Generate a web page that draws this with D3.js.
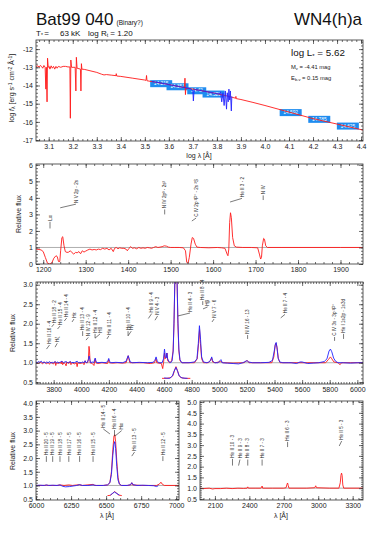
<!DOCTYPE html>
<html><head><meta charset="utf-8">
<script src="https://cdn.jsdelivr.net/npm/d3@7"></script>
<style>
body{margin:0;background:#fff}
svg text{font-family:"Liberation Sans",Arial,sans-serif}
.axis path{stroke:none}
.axis line{stroke:#333;stroke-width:0.7}
.axis text{font-size:7px;fill:#222}
</style></head><body>
<svg id="chart" width="382" height="541"></svg>
<script>
// ---- data ----
const sedModel = [[3.047,-12.95],[3.055,-12.92],[3.06,-13.0],[3.065,-12.9],[3.07,-12.95],[3.075,-13.05],[3.08,-12.9],[3.085,-13.0],[3.088,-14.2],[3.09,-13.0],[3.093,-14.9],[3.095,-12.5],[3.098,-13.0],[3.102,-12.95],[3.105,-13.1],[3.11,-12.92],[3.115,-13.05],[3.12,-12.95],[3.125,-13.1],[3.13,-12.95],[3.135,-13.05],[3.14,-12.95],[3.15,-13.0],[3.16,-12.95],[3.17,-12.95],[3.18,-12.98],[3.188,-12.98],[3.19,-15.8],[3.192,-12.6],[3.195,-13.0],[3.21,-13.0],[3.213,-14.3],[3.215,-12.45],[3.218,-13.05],[3.232,-13.1],[3.234,-14.3],[3.236,-12.8],[3.238,-13.1],[3.25,-13.12],[3.3,-13.28],[3.32,-13.38],[3.33,-13.42],[3.34,-13.4],[3.36,-13.43],[3.38,-13.46],[3.381,-13.35],[3.383,-13.48],[3.4,-13.5],[3.45,-13.6],[3.5,-13.7],[3.505,-13.72],[3.507,-13.45],[3.509,-13.74],[3.55,-13.83],[3.6,-13.95],[3.65,-14.08],[3.665,-14.12],[3.667,-13.6],[3.669,-14.5],[3.671,-14.14],[3.7,-14.2],[3.75,-14.32],[3.8,-14.45],[3.85,-14.6],[3.878,-14.7],[3.879,-14.6],[3.88,-14.72],[3.9,-14.77],[3.95,-14.93],[4.0,-15.1],[4.1,-15.46],[4.2,-15.82],[4.3,-16.12],[4.408,-16.45]];
const sedObs = [[3.53,-13.78],[3.54,-13.8],[3.55,-13.83],[3.56,-13.84],[3.57,-13.88],[3.58,-13.9],[3.59,-13.92],[3.6,-13.96],[3.61,-13.98],[3.62,-14.0],[3.63,-14.03],[3.64,-14.05],[3.65,-14.08],[3.66,-14.1],[3.67,-14.12],[3.68,-14.15],[3.69,-14.18],[3.7,-14.3],[3.702,-14.85],[3.705,-14.25],[3.71,-14.22],[3.72,-14.25],[3.73,-14.27],[3.74,-14.3],[3.75,-14.32],[3.76,-14.35],[3.77,-14.37],[3.78,-14.4],[3.79,-14.42],[3.8,-14.45],[3.81,-14.47],[3.815,-14.35],[3.82,-14.9],[3.825,-14.4],[3.83,-15.1],[3.835,-14.3],[3.84,-15.3],[3.843,-14.4],[3.847,-14.9],[3.85,-14.2],[3.853,-14.8],[3.856,-14.3],[3.86,-15.4],[3.862,-14.6]];
const photLam = [3.568, 3.636, 3.716, 3.786, 4.107, 4.226, 4.345];
const photFlux = [-13.90, -14.07, -14.29, -14.47, -15.49, -15.86, -16.23];
const photMag = ['14.215', '14.353', '14.42', '14.528', '14.592', '14.785', '14.625'];

const uvModel = [[1183,0.9],[1190,0.88],[1195,0.85],[1200,0.75],[1205,0.4],[1210,0.05],[1215,0.0],[1220,0.05],[1225,0.35],[1230,0.5],[1233,0.45],[1236,0.15],[1239,0.15],[1241,0.8],[1244,1.6],[1246,1.65],[1249,1.1],[1252,0.75],[1256,0.7],[1260,0.72],[1264,0.8],[1268,0.68],[1272,0.6],[1276,0.7],[1280,0.68],[1284,0.75],[1288,0.62],[1292,0.8],[1296,0.72],[1300,0.78],[1305,0.85],[1310,0.9],[1315,0.85],[1320,0.88],[1325,0.85],[1330,0.9],[1335,0.87],[1340,0.95],[1345,0.9],[1350,0.95],[1355,0.85],[1360,0.95],[1365,0.75],[1368,0.95],[1372,1.0],[1376,0.92],[1380,0.98],[1385,0.95],[1390,0.95],[1395,0.9],[1398,0.8],[1402,0.95],[1406,1.05],[1410,0.95],[1415,0.98],[1420,0.92],[1425,1.0],[1430,0.95],[1435,0.98],[1440,0.95],[1445,1.0],[1450,0.98],[1455,0.95],[1460,1.0],[1465,1.05],[1470,1.0],[1475,1.02],[1480,1.05],[1485,1.1],[1490,1.08],[1495,1.02],[1500,1.0],[1510,1.0],[1520,1.0],[1530,0.98],[1535,0.8],[1538,0.1],[1541,0.05],[1544,0.4],[1548,1.2],[1551,1.6],[1554,1.55],[1558,1.2],[1562,1.02],[1570,1.0],[1590,0.98],[1610,1.0],[1620,0.98],[1628,0.95],[1633,0.6],[1635,0.5],[1637,0.9],[1639,2.5],[1641,3.1],[1643,2.8],[1646,1.6],[1650,1.1],[1655,1.02],[1670,1.0],[1690,1.0],[1705,0.98],[1709,0.6],[1712,0.3],[1714,0.4],[1716,1.1],[1719,1.55],[1721,1.5],[1724,1.1],[1728,1.0],[1760,1.0],[1800,1.0],[1900,1.0],[1953,1.0]];

const optModel = [[3672,1.0],[3690,0.98],[3700,1.02],[3710,1.0],[3720,0.97],[3730,1.02],[3740,1.0],[3750,0.97],[3760,1.01],[3770,0.96],[3780,1.02],[3790,0.98],[3800,0.97],[3810,1.03],[3815,0.93],[3820,1.0],[3835,0.98],[3845,1.02],[3855,0.97],[3860,1.04],[3865,0.95],[3875,1.0],[3885,0.97],[3890,0.92],[3895,1.02],[3910,0.98],[3920,1.03],[3925,0.95],[3935,1.0],[3950,0.97],[3965,1.0],[3970,0.9],[3975,1.0],[3990,0.98],[4010,1.0],[4020,0.95],[4028,1.05],[4035,1.0],[4045,1.0],[4052,1.1],[4056,1.42],[4060,1.3],[4064,1.0],[4080,0.98],[4092,0.93],[4100,1.1],[4106,1.0],[4120,0.98],[4150,1.0],[4190,0.98],[4198,1.08],[4203,1.0],[4230,0.99],[4260,1.0],[4300,0.99],[4325,1.0],[4335,1.12],[4340,1.18],[4345,1.1],[4352,1.0],[4400,1.0],[4450,1.0],[4500,0.98],[4530,1.0],[4538,1.08],[4542,1.1],[4547,1.0],[4580,0.98],[4590,0.85],[4596,1.0],[4603,1.25],[4607,1.1],[4617,1.15],[4621,1.25],[4626,1.05],[4640,1.0],[4655,1.05],[4665,1.3],[4672,2.0],[4678,3.1],[4686,3.3],[4694,3.1],[4700,2.0],[4707,1.3],[4715,1.05],[4730,1.0],[4780,1.0],[4820,1.0],[4840,1.1],[4850,1.5],[4857,1.85],[4863,1.5],[4872,1.1],[4885,1.0],[4920,1.0],[4935,1.05],[4944,1.12],[4952,1.02],[4970,1.0],[5010,1.03],[5030,1.0],[5100,0.99],[5180,1.0],[5195,1.05],[5205,1.05],[5215,1.0],[5300,1.0],[5380,1.0],[5395,1.15],[5405,1.45],[5411,1.5],[5418,1.4],[5428,1.1],[5440,1.0],[5500,1.0],[5600,1.0],[5700,1.0],[5770,1.0],[5790,1.08],[5805,1.15],[5815,1.1],[5830,1.02],[5860,1.0],[5875,0.95],[5885,1.0],[5950,1.0],[6041,1.0]];
const optObs = [[3672,1.02],[3680,1.0],[3690,1.03],[3700,1.01],[3710,1.04],[3720,1.0],[3730,1.02],[3740,0.99],[3750,1.02],[3760,1.0],[3770,1.03],[3780,0.99],[3790,1.01],[3800,1.0],[3810,1.03],[3820,1.0],[3830,1.02],[3840,0.99],[3850,1.02],[3860,1.04],[3870,1.0],[3880,1.02],[3890,1.03],[3900,1.0],[3910,1.01],[3920,1.03],[3930,1.0],[3940,1.01],[3950,1.0],[3960,1.02],[3970,1.04],[3980,1.0],[3990,1.01],[4000,1.0],[4010,1.02],[4020,1.0],[4028,1.05],[4035,1.0],[4045,1.02],[4052,1.08],[4057,1.17],[4062,1.08],[4068,1.0],[4080,1.02],[4090,1.0],[4097,1.08],[4101,1.12],[4106,1.05],[4112,1.0],[4150,1.01],[4180,1.0],[4193,1.05],[4199,1.11],[4205,1.04],[4212,1.0],[4250,1.01],[4300,1.0],[4325,1.04],[4333,1.12],[4340,1.18],[4347,1.1],[4355,1.02],[4370,1.0],[4420,1.01],[4480,1.0],[4520,1.01],[4533,1.06],[4542,1.15],[4550,1.05],[4560,1.0],[4585,1.0],[4596,1.1],[4603,1.35],[4609,1.15],[4615,1.12],[4620,1.25],[4626,1.1],[4635,1.03],[4648,1.0],[4658,1.05],[4666,1.3],[4672,2.1],[4678,3.1],[4686,3.3],[4694,3.1],[4700,2.1],[4707,1.35],[4715,1.08],[4728,1.0],[4780,1.0],[4820,1.02],[4838,1.1],[4848,1.5],[4856,1.95],[4864,1.6],[4872,1.15],[4885,1.02],[4910,1.0],[4930,1.03],[4940,1.1],[4945,1.15],[4952,1.05],[4965,1.0],[4990,1.0],[5005,1.05],[5012,1.08],[5020,1.0],[5060,0.99],[5100,0.98],[5140,0.97],[5170,1.0],[5192,1.04],[5202,1.05],[5212,1.02],[5240,1.0],[5300,1.0],[5360,1.01],[5385,1.06],[5398,1.3],[5406,1.48],[5412,1.52],[5418,1.38],[5426,1.12],[5438,1.02],[5460,1.0],[5520,1.0],[5560,0.98],[5585,1.02],[5600,1.02],[5640,0.98],[5680,0.99],[5720,1.0],[5760,1.03],[5780,1.1],[5795,1.3],[5805,1.35],[5815,1.28],[5828,1.12],[5842,1.04],[5860,1.0],[5900,1.0],[5950,0.99],[6000,1.0],[6041,1.0]];
const optInsetModel = [[4585,0.6],[4620,0.6],[4650,0.62],[4665,0.68],[4675,0.8],[4686,0.9],[4697,0.8],[4707,0.68],[4720,0.62],[4750,0.6],[4790,0.6]];
const optInsetObs = [[4600,0.61],[4640,0.6],[4660,0.66],[4672,0.78],[4686,0.88],[4698,0.78],[4710,0.66],[4730,0.61],[4770,0.6]];

const redModel = [[6000,1.0],[6050,1.0],[6074,1.01],[6100,1.0],[6150,1.0],[6171,1.02],[6200,1.0],[6234,1.02],[6260,1.0],[6311,1.03],[6330,1.0],[6407,1.04],[6420,1.0],[6480,1.0],[6510,1.02],[6527,1.1],[6538,1.5],[6548,2.3],[6556,2.8],[6562,2.85],[6568,2.6],[6576,1.9],[6585,1.3],[6595,1.05],[6610,1.0],[6650,1.0],[6675,1.02],[6683,1.1],[6690,1.02],[6750,1.0],[6800,1.0],[6860,1.0],[6880,1.05],[6891,1.12],[6900,1.05],[6915,1.0],[7020,1.0]];
const redObs = [[6000,1.0],[6030,1.01],[6060,1.0],[6074,1.02],[6090,1.0],[6119,1.01],[6150,1.0],[6171,1.02],[6190,0.97],[6210,0.95],[6240,0.96],[6265,0.98],[6290,1.0],[6311,1.03],[6330,1.0],[6370,1.0],[6407,1.02],[6430,1.0],[6480,1.0],[6510,1.02],[6527,1.1],[6538,1.4],[6548,2.1],[6556,2.5],[6562,2.6],[6568,2.35],[6576,1.7],[6585,1.2],[6595,1.05],[6610,1.0],[6650,1.0],[6675,1.03],[6683,1.1],[6692,1.03],[6720,1.0],[6760,1.01],[6800,1.0],[6840,0.99],[6860,0.96],[6872,0.99]];
const redInsetModel = [[6510,0.63],[6530,0.64],[6545,0.7],[6560,0.78],[6575,0.72],[6590,0.65],[6612,0.63]];
const redInsetObs = [[6530,0.65],[6548,0.72],[6560,0.76],[6572,0.72],[6595,0.65]];

const nuvModel = [[1970,1.0],[2000,0.98],[2050,1.0],[2080,0.96],[2100,0.98],[2150,0.98],[2200,1.0],[2250,0.98],[2300,1.0],[2350,0.99],[2380,1.0],[2386,1.06],[2392,1.0],[2450,1.0],[2500,1.0],[2507,1.05],[2511,1.1],[2516,1.0],[2600,1.0],[2700,1.0],[2720,1.02],[2728,1.18],[2733,1.24],[2739,1.12],[2745,1.0],[2900,1.0],[2970,1.02],[2978,1.11],[2985,1.02],[3100,1.0],[3180,1.0],[3192,1.25],[3198,1.6],[3203,1.7],[3208,1.6],[3214,1.15],[3222,1.0],[3390,1.0]];

const uvIdents = [
  {t: 'Lα', lam: 1216, at: 1216, lo: 2.15, hi: 2.55},
  {t: 'N V 2p - 2s', lam: 1240, at: 1277, lo: 3.4, hi: 3.62},
  {t: 'N IV 2p³ - 2s²', lam: 1486, at: 1486, lo: 3.0, hi: 3.3},
  {t: 'C IV 2p ²P° - 2s ²S', lam: 1550, at: 1560, lo: 2.6, hi: 2.78},
  {t: 'He II 3 - 2', lam: 1640, at: 1668, lo: 3.75, hi: 3.97},
  {t: 'N IV', lam: 1718, at: 1718, lo: 3.87, hi: 4.15}
];
const optIdents = [
  {t: 'He II 16 - 4', lam: 3748, at: 3770, lo: 1.35, hi: 1.455},
  {t: 'Hζ', lam: 3810, at: 3826, lo: 1.40, hi: 1.50},
  {t: 'He II 18 - 2', lam: 3786, at: 3802, lo: 1.92, hi: 1.99},
  {t: 'He II 15 - 4', lam: 3828, at: 3846, lo: 1.865, hi: 1.94},
  {t: 'He II 14 - 4', lam: 3877, at: 3894, lo: 2.07, hi: 2.145},
  {t: 'Hε', lam: 3933, at: 3947, lo: 2.045, hi: 2.12},
  {t: 'He II 13 - 4', lam: 4010, at: 4010, lo: 1.686, hi: 1.81},
  {t: 'N IV 12 - 9', lam: 4034, at: 4051, lo: 1.58, hi: 1.65},
  {t: 'He II 12 - 4', lam: 4100, at: 4100, lo: 1.63, hi: 1.74},
  {t: 'Hδ', lam: 4100, at: 4136, lo: 1.63, hi: 1.74},
  {t: 'He II 11 - 4', lam: 4186, at: 4200, lo: 1.61, hi: 1.69},
  {t: 'He II 10 - 4', lam: 4339, at: 4339, lo: 1.69, hi: 1.81},
  {t: 'Hγ', lam: 4339, at: 4362, lo: 1.69, hi: 1.81},
  {t: 'He II 9 - 4', lam: 4486, at: 4510, lo: 2.135, hi: 2.26},
  {t: 'N V 4 - 3', lam: 4534, at: 4553, lo: 2.09, hi: 2.2},
  {t: 'He II 4 - 3', lam: 4701, at: 4788, lo: 2.2, hi: 2.275},
  {t: 'He II 8 - 4', lam: 4880, at: 4880, lo: 2.48, hi: 2.58},
  {t: 'Hβ', lam: 4882, at: 4915, lo: 2.38, hi: 2.43},
  {t: 'N V 7 - 6', lam: 4947, at: 4962, lo: 2.045, hi: 2.12},
  {t: 'N IV 16 - 13', lam: 5205, at: 5205, lo: 1.61, hi: 1.71},
  {t: 'He II 7 - 4', lam: 5445, at: 5476, lo: 2.15, hi: 2.24},
  {t: 'C IV 3s - 3p ²P°', lam: 5835, at: 5835, lo: 1.56, hi: 1.66},
  {t: 'He I 1s2p - 1s3d', lam: 5900, at: 5900, lo: 1.61, hi: 1.74}
];
const redIdents = [
  {t: 'He II 20 - 5', lam: 6074, at: 6074, lo: 1.86, hi: 2.07},
  {t: 'He II 19 - 5', lam: 6119, at: 6119, lo: 1.86, hi: 2.07},
  {t: 'He II 18 - 5', lam: 6171, at: 6171, lo: 1.86, hi: 2.07},
  {t: 'He II 17 - 5', lam: 6234, at: 6234, lo: 1.86, hi: 2.07},
  {t: 'He II 16 - 5', lam: 6311, at: 6311, lo: 1.86, hi: 2.07},
  {t: 'He II 15 - 5', lam: 6407, at: 6407, lo: 1.86, hi: 2.07},
  {t: 'He II 14 - 5', lam: 6527, at: 6480, lo: 2.88, hi: 3.06},
  {t: 'He II 6 - 4', lam: 6560, at: 6560, lo: 2.80, hi: 3.02},
  {t: 'Hα', lam: 6563, at: 6611, lo: 2.80, hi: 3.0},
  {t: 'He II 13 - 5', lam: 6683, at: 6703, lo: 2.07, hi: 2.22},
  {t: 'He II 12 - 5', lam: 6905, at: 6905, lo: 1.89, hi: 2.07}
];
const nuvIdents = [
  {t: 'He II 10 - 3', lam: 2253, at: 2253, lo: 2.05, hi: 2.36},
  {t: 'He II 9 - 3', lam: 2306, at: 2318, lo: 2.05, hi: 2.33},
  {t: 'He II 8 - 3', lam: 2386, at: 2386, lo: 2.05, hi: 2.33},
  {t: 'He II 7 - 3', lam: 2511, at: 2511, lo: 2.05, hi: 2.33},
  {t: 'He II 6 - 3', lam: 2733, at: 2733, lo: 2.91, hi: 3.15},
  {t: 'He II 5 - 3', lam: 3183, at: 3204, lo: 2.96, hi: 3.19}
];

// ---- drawing ----
const svg = d3.select('#chart');
const RED = '#ff1a1a', BLUE = '#2424ff';

function ticksOf(dom, step) {
  const n0 = Math.ceil(dom[0] / step - 1e-6), n1 = Math.floor(dom[1] / step + 1e-6);
  return d3.range(n0, n1 + 1).map(i => +(i * step).toFixed(6));
}

function makePanel(o) {
  const x = d3.scaleLinear().domain(o.xd).range([o.l, o.r]);
  const y = d3.scaleLinear().domain(o.yd).range([o.b, o.t]);
  const g = svg.append('g');
  const cid = 'clip-' + o.id;
  g.append('clipPath').attr('id', cid).append('rect')
    .attr('x', o.l).attr('y', o.t).attr('width', o.r - o.l).attr('height', o.b - o.t);
  const plot = g.append('g').attr('clip-path', `url(#${cid})`);

  const xMaj = ticksOf(o.xd, o.xs[0]), xMin = ticksOf(o.xd, o.xs[1]);
  const yMaj = ticksOf(o.yd, o.ys[0]), yMin = ticksOf(o.yd, o.ys[1]);
  const ax = g.append('g').attr('class', 'axis');
  const add = (axis, tx, ty) => ax.append('g').attr('transform', `translate(${tx},${ty})`).call(axis);
  add(d3.axisBottom(x).tickValues(xMin).tickSize(-2).tickFormat(''), 0, o.b);
  add(d3.axisBottom(x).tickValues(xMaj).tickSize(-4).tickPadding(3).tickFormat(o.xf), 0, o.b);
  add(d3.axisTop(x).tickValues(xMin).tickSize(-2).tickFormat(''), 0, o.t);
  add(d3.axisTop(x).tickValues(xMaj).tickSize(-4).tickFormat(''), 0, o.t);
  add(d3.axisLeft(y).tickValues(yMin).tickSize(-2).tickFormat(''), o.l, 0);
  add(d3.axisLeft(y).tickValues(yMaj).tickSize(-4).tickPadding(3).tickFormat(o.yf), o.l, 0);
  add(d3.axisRight(y).tickValues(yMin).tickSize(-2).tickFormat(''), o.r, 0);
  add(d3.axisRight(y).tickValues(yMaj).tickSize(-4).tickFormat(''), o.r, 0);
  g.append('rect').attr('x', o.l).attr('y', o.t).attr('width', o.r - o.l).attr('height', o.b - o.t)
    .attr('fill', 'none').attr('stroke', '#333').attr('stroke-width', 0.8);
  return {x, y, g, plot, o};
}

function drawLine(p, data, color) {
  const line = d3.line().x(d => p.x(d[0])).y(d => p.y(d[1]));
  p.plot.append('path').datum(data).attr('d', line)
    .attr('fill', 'none').attr('stroke', color).attr('stroke-width', 0.9).attr('stroke-linejoin', 'round');
}

function unity(p) {
  p.plot.append('line').attr('x1', p.o.l).attr('x2', p.o.r).attr('y1', p.y(1)).attr('y2', p.y(1))
    .attr('stroke', '#9a9a9a').attr('stroke-width', 0.8);
}

function idents(p, list) {
  list.forEach(d => {
    const x0 = p.x(d.lam), y0 = p.y(d.lo), x1 = p.x(d.at), y1 = p.y(d.hi);
    p.g.append('path').attr('d', `M${x0},${y0}L${x1},${y1}`)
      .attr('stroke', '#222').attr('stroke-width', 0.6).attr('fill', 'none');
    p.g.append('text').attr('transform', `translate(${x1 + 1.7},${y1 - 1.2}) rotate(-90)`)
      .attr('font-size', 4.6).attr('fill', '#222').text(d.t);
  });
}

function yLabel(x, y, txt) {
  svg.append('text').attr('transform', `translate(${x},${y}) rotate(-90)`)
    .attr('text-anchor', 'middle').attr('font-size', 7).attr('fill', '#222').text(txt);
}

// header
svg.append('text').attr('x', 36).attr('y', 25).attr('font-size', 17).attr('fill', '#111')
  .text('Bat99 040')
  .append('tspan').attr('font-size', 6.5).attr('dx', 3).text('(Binary?)');
svg.append('text').attr('x', 362).attr('y', 25).attr('font-size', 17).attr('fill', '#111')
  .attr('text-anchor', 'end').text('WN4(h)a');
const s1 = svg.append('text').attr('x', 36).attr('y', 35.8).attr('font-size', 8).attr('fill', '#111');
s1.append('tspan').text('T');
s1.append('tspan').attr('font-size', 5).attr('dy', 1.5).text('*');
s1.append('tspan').attr('dy', -1.5).attr('dx', 1.5).text('=');
svg.append('text').attr('x', 60).attr('y', 35.8).attr('font-size', 8).attr('fill', '#111').text('63 kK');
const s2 = svg.append('text').attr('x', 88).attr('y', 35.8).attr('font-size', 8).attr('fill', '#111');
s2.append('tspan').text('log R');
s2.append('tspan').attr('font-size', 5).attr('dy', 1.5).text('t');
s2.append('tspan').attr('dy', -1.5).text(' = 1.20');

// panel 1: SED
const p1 = makePanel({id: 'sed', l: 36, r: 363, t: 40, b: 141, xd: [3.047, 4.408], yd: [-17.05, -11.5],
  xs: [0.1, 0.02], ys: [1, 0.2], xf: d => d.toFixed(1), yf: d => String(d)});
const boxes = p1.plot.selectAll('g.phot').data(photLam.map((l, i) => ({l, f: photFlux[i], m: photMag[i]})))
  .enter().append('g').attr('class', 'phot')
  .attr('transform', d => `translate(${p1.x(d.l)},${p1.y(d.f)})`);
boxes.append('rect').attr('x', d => -d.m.length * 1.5 - 2).attr('y', -3.5)
  .attr('width', d => d.m.length * 3 + 4).attr('height', 7).attr('fill', '#1e8cf0');
boxes.append('text').attr('text-anchor', 'middle').attr('y', 1.7).attr('font-size', 4.8)
  .attr('fill', '#fff').text(d => d.m);
drawLine(p1, sedModel, RED);
drawLine(p1, sedObs, BLUE);
const lt = p1.g.append('text').attr('x', 291).attr('y', 56).attr('font-size', 9.8).attr('fill', '#111');
lt.append('tspan').text('log L');
lt.append('tspan').attr('font-size', 6).attr('dy', 2).text('*');
lt.append('tspan').attr('dy', -2).text(' = 5.62');
const mt = p1.g.append('text').attr('x', 291).attr('y', 69).attr('font-size', 5.8).attr('fill', '#222');
mt.append('tspan').text('M');
mt.append('tspan').attr('font-size', 4).attr('dy', 1).text('v');
mt.append('tspan').attr('dy', -1).text(' = -4.41 mag');
const et = p1.g.append('text').attr('x', 291).attr('y', 80).attr('font-size', 5.8).attr('fill', '#222');
et.append('tspan').text('E');
et.append('tspan').attr('font-size', 4).attr('dy', 1).text('b-v');
et.append('tspan').attr('dy', -1).text(' = 0.15 mag');
const yl1 = svg.append('text').attr('transform', 'translate(14,88) rotate(-90)')
  .attr('text-anchor', 'middle').attr('font-size', 7).attr('fill', '#222');
yl1.append('tspan').text('log ');
yl1.append('tspan').attr('font-style', 'italic').text('f');
yl1.append('tspan').attr('font-size', 5).attr('dy', 1.2).text('λ');
yl1.append('tspan').attr('dy', -1.2).text(' [erg s');
yl1.append('tspan').attr('font-size', 5).attr('dy', -2.5).text('-1');
yl1.append('tspan').attr('dy', 2.5).text(' cm');
yl1.append('tspan').attr('font-size', 5).attr('dy', -2.5).text('-2');
yl1.append('tspan').attr('dy', 2.5).text(' Å');
yl1.append('tspan').attr('font-size', 5).attr('dy', -2.5).text('-1');
yl1.append('tspan').attr('dy', 2.5).text(']');
svg.append('text').attr('x', 199).attr('y', 157.5).attr('text-anchor', 'middle')
  .attr('font-size', 7).attr('fill', '#222').text('log λ [Å]');

// panel 2: UV
const p2 = makePanel({id: 'uv', l: 36, r: 363, t: 164, b: 264, xd: [1183, 1953], yd: [0, 6.05],
  xs: [100, 20], ys: [1, 0.2], xf: d => String(d), yf: d => String(d)});
unity(p2);
drawLine(p2, uvModel, RED);
idents(p2, uvIdents);
yLabel(21, 214, 'Relative flux');

// panel 3: optical
const p3 = makePanel({id: 'opt', l: 36, r: 363, t: 282, b: 384, xd: [3672, 6041], yd: [0.455, 3.07],
  xs: [200, 20], ys: [0.5, 0.1], xf: d => String(d), yf: d => d.toFixed(1)});
unity(p3);
drawLine(p3, optModel, RED);
drawLine(p3, optObs, BLUE);
drawLine(p3, optInsetModel, RED);
drawLine(p3, optInsetObs, BLUE);
idents(p3, optIdents);
yLabel(15, 333, 'Relative flux');

// panel 4a: red
const p4 = makePanel({id: 'red', l: 36, r: 179, t: 401, b: 500, xd: [6000, 7020], yd: [0.47, 4.08],
  xs: [250, 50], ys: [0.5, 0.1], xf: d => String(d), yf: d => d.toFixed(1)});
unity(p4);
drawLine(p4, redModel, RED);
drawLine(p4, redObs, BLUE);
drawLine(p4, redInsetModel, RED);
drawLine(p4, redInsetObs, BLUE);
idents(p4, redIdents);
yLabel(15, 451, 'Relative flux');
svg.append('text').attr('x', 107).attr('y', 518).attr('text-anchor', 'middle')
  .attr('font-size', 7).attr('fill', '#222').text('λ [Å]');

// panel 4b: near UV
const p5 = makePanel({id: 'nuv', l: 200, r: 363, t: 401, b: 500, xd: [1970, 3390], yd: [0.45, 5.05],
  xs: [300, 50], ys: [0.5, 0.1], xf: d => String(d), yf: d => d.toFixed(1)});
unity(p5);
drawLine(p5, nuvModel, RED);
idents(p5, nuvIdents);
svg.append('text').attr('x', 281).attr('y', 518).attr('text-anchor', 'middle')
  .attr('font-size', 7).attr('fill', '#222').text('λ [Å]');
</script></body></html>
